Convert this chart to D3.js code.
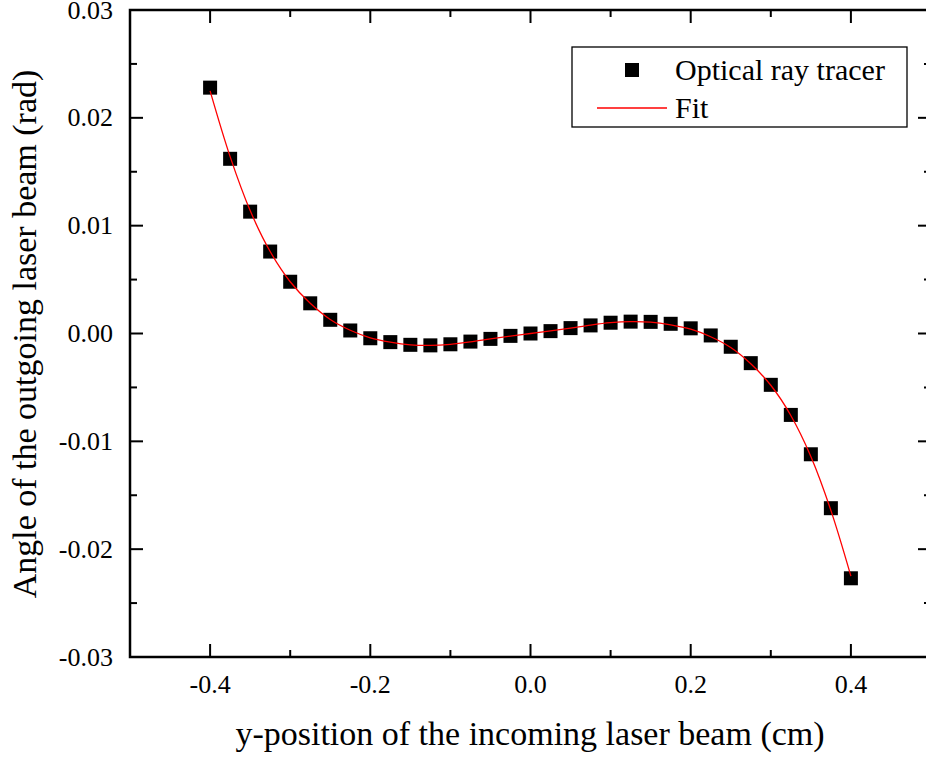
<!DOCTYPE html>
<html><head><meta charset="utf-8">
<script src="https://cdn.jsdelivr.net/npm/d3@7"></script>
<style>body{margin:0;background:#fff}svg{display:block}</style>
</head><body>
<script>
const xValues = [-0.4,-0.375,-0.35,-0.325,-0.3,-0.275,-0.25,-0.225,-0.2,-0.175,-0.15,-0.125,-0.1,-0.075,-0.05,-0.025,0,0.025,0.05,0.075,0.1,0.125,0.15,0.175,0.2,0.225,0.25,0.275,0.3,0.325,0.35,0.375,0.4];
const tracerValues = [0.0228,0.0162,0.0113,0.0076,0.0048,0.0028,0.00127,0.00028,-0.00044,-0.0008,-0.00105,-0.0011,-0.001,-0.00075,-0.0005,-0.00022,0,0.00022,0.0005,0.00075,0.001,0.0011,0.00108,0.0009,0.00048,-0.00018,-0.00123,-0.00275,-0.00476,-0.00755,-0.0112,-0.0162,-0.0227];
const fitValues = [0.0225,0.0164,0.0114,0.0076,0.0048,0.0028,0.0013,0.0003,-0.0004,-0.0008,-0.00105,-0.0011,-0.001,-0.00078,-0.0005,-0.00024,0,0.00024,0.0005,0.00078,0.001,0.0011,0.00105,0.0008,0.0004,-0.0003,-0.0013,-0.0028,-0.0048,-0.0076,-0.0114,-0.0164,-0.0225];
const xTicks = [-0.4,-0.2,0.0,0.2,0.4];
const yTicks = [0.03,0.02,0.01,0.00,-0.01,-0.02,-0.03];
const seriesNames = ["Optical ray tracer","Fit"];

const W=926,H=760;
const m={l:130,t:10,r:931,b:657};
const svg=d3.select("body").append("svg").attr("width",W).attr("height",H);
const x=d3.scaleLinear().domain([-0.5,0.5]).range([m.l,m.r]);
const y=d3.scaleLinear().domain([-0.03,0.03]).range([m.b,m.t]);
const font="'Liberation Serif','Times New Roman',serif";

svg.append("rect").attr("x",m.l).attr("y",m.t).attr("width",m.r-m.l).attr("height",m.b-m.t)
  .attr("fill","none").attr("stroke","#000").attr("stroke-width",2.5);

const xMinor=d3.range(-0.5,0.5001,0.1).map(v=>+v.toFixed(2)).filter(v=>!xTicks.some(t=>Math.abs(t-v)<1e-9));
const yMinor=d3.range(-0.03,0.03001,0.005).map(v=>+v.toFixed(3)).filter(v=>!yTicks.some(t=>Math.abs(t-v)<1e-9));
const tk=svg.append("g").attr("stroke","#000").attr("stroke-width",2);
function xt(vals,len){vals.forEach(v=>{
  tk.append("line").attr("x1",x(v)).attr("x2",x(v)).attr("y1",m.b).attr("y2",m.b-len);
  tk.append("line").attr("x1",x(v)).attr("x2",x(v)).attr("y1",m.t).attr("y2",m.t+len);});}
function yt(vals,len){vals.forEach(v=>{
  tk.append("line").attr("y1",y(v)).attr("y2",y(v)).attr("x1",m.l).attr("x2",m.l+len);
  tk.append("line").attr("y1",y(v)).attr("y2",y(v)).attr("x1",m.r).attr("x2",m.r-len);});}
xt(xTicks,13); xt(xMinor,7); yt(yTicks,13); yt(yMinor,7);

svg.append("g").selectAll("text").data(xTicks).join("text")
  .attr("x",d=>x(d)).attr("y",693).attr("text-anchor","middle")
  .attr("font-family",font).attr("font-size",26).text(d=>d3.format(".1f")(d).replace("−","-"));
svg.append("g").selectAll("text").data(yTicks).join("text")
  .attr("x",113).attr("y",d=>y(d)+8.5).attr("text-anchor","end")
  .attr("font-family",font).attr("font-size",26).text(d=>d3.format(".2f")(d).replace("−","-"));

svg.append("text").attr("x",530).attr("y",745).attr("text-anchor","middle")
  .attr("font-family",font).attr("font-size",34).text("y-position of the incoming laser beam (cm)");
svg.append("text").attr("transform","translate(36,334) rotate(-90)").attr("text-anchor","middle")
  .attr("font-family",font).attr("font-size",34).text("Angle of the outgoing laser beam (rad)");

const fitData=xValues.map((v,i)=>[v,fitValues[i]]);
const s=14;
svg.append("g").selectAll("rect").data(xValues.map((v,i)=>[v,tracerValues[i]])).join("rect")
  .attr("x",d=>x(d[0])-s/2).attr("y",d=>y(d[1])-s/2).attr("width",s).attr("height",s).attr("fill","#000");
svg.append("path").datum(fitData).attr("fill","none").attr("stroke","#f00").attr("stroke-width",1.3)
  .attr("d",d3.line().x(d=>x(d[0])).y(d=>y(d[1])).curve(d3.curveCatmullRom));

const lg=svg.append("g");
lg.append("rect").attr("x",572).attr("y",47).attr("width",335).attr("height",80)
  .attr("fill","#fff").attr("stroke","#000").attr("stroke-width",1.3);
lg.append("rect").attr("x",632-s/2).attr("y",70-s/2).attr("width",s).attr("height",s).attr("fill","#000");
lg.append("line").attr("x1",597).attr("x2",667).attr("y1",108).attr("y2",108).attr("stroke","#f00").attr("stroke-width",1.3);
lg.append("text").attr("x",675).attr("y",80).attr("font-family",font).attr("font-size",30).text(seriesNames[0]);
lg.append("text").attr("x",675).attr("y",118).attr("font-family",font).attr("font-size",30).text(seriesNames[1]);
</script>
</body></html>
